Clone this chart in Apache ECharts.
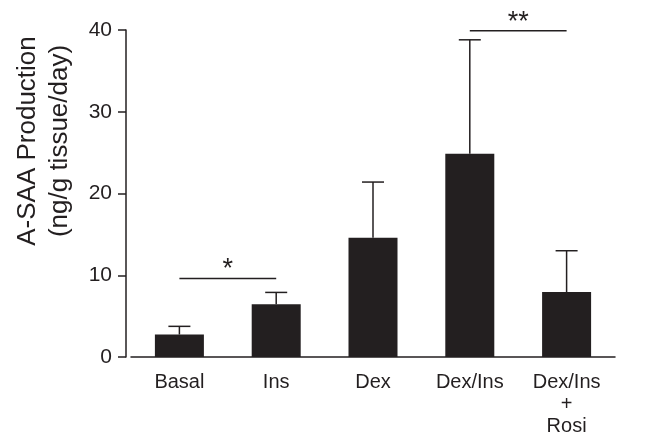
<!DOCTYPE html>
<html>
<head>
<meta charset="utf-8">
<script src="https://cdn.jsdelivr.net/npm/echarts@6/dist/echarts.min.js"></script>
<style>
html, body { margin: 0; padding: 0; background: #fff; }
#chart { width: 661px; height: 437px; }
</style>
</head>
<body>
<div id="chart"></div>
<script>
// groups on the x axis
const categories = ['Basal', 'Ins', 'Dex', 'Dex/Ins', 'Dex/Ins\n+\nRosi'];
// mean A-SAA production per group
const means = [2.75, 6.45, 14.6, 24.85, 7.95];
// top of the error bar (mean + SD)
const upper = [3.75, 7.9, 21.4, 38.8, 13.0];
// significance brackets: which two groups, at what height, which mark
const sigFrom = [0, 3];
const sigTo = [1, 4];
const sigLevel = [9.6, 39.9];
const sigMark = ['*', '**'];

const INK = '#231f20';
const FONT = '"Liberation Sans", Arial, Helvetica, sans-serif';

const chart = echarts.init(document.getElementById('chart'), null, { renderer: 'canvas' });

chart.setOption({
    backgroundColor: '#fff',
    animation: false,
    grid: { left: 131, right: 46, top: 30, bottom: 77 },
    xAxis: {
        type: 'category',
        data: categories,
        axisLine: { lineStyle: { color: INK, width: 1.5 } },
        axisTick: { show: false },
        axisLabel: {
            color: INK,
            fontFamily: FONT,
            fontSize: 20,
            lineHeight: 22,
            margin: 14,
            interval: 0
        }
    },
    yAxis: {
        type: 'value',
        min: 0,
        max: 40,
        interval: 10,
        offset: 5,
        splitLine: { show: false },
        axisLine: { show: true, lineStyle: { color: INK, width: 1.5 } },
        axisTick: { show: true, length: 8, lineStyle: { color: INK, width: 1.5 } },
        axisLabel: { color: INK, fontFamily: FONT, fontSize: 21, margin: 14 }
    },
    graphic: [{
        type: 'text',
        x: 44,
        y: 141,
        rotation: Math.PI / 2,
        style: {
            text: 'A-SAA Production\n(ng/g tissue/day)',
            fill: INK,
            fontFamily: FONT,
            fontSize: 26,
            lineHeight: 32,
            align: 'center',
            verticalAlign: 'middle'
        }
    }],
    series: [
        {
            type: 'bar',
            data: means,
            barWidth: 49,
            itemStyle: { color: INK },
            z: 2
        },
        {
            // error bars, upward only
            type: 'custom',
            data: categories.map((c, i) => [i, means[i], upper[i]]),
            renderItem: function (params, api) {
                const base = api.coord([api.value(0), api.value(1)]);
                const top = api.coord([api.value(0), api.value(2)]);
                const half = 11;
                const style = { stroke: INK, lineWidth: 1.5 };
                return {
                    type: 'group',
                    children: [
                        { type: 'line', shape: { x1: top[0], y1: base[1], x2: top[0], y2: top[1] }, style: style },
                        { type: 'line', shape: { x1: top[0] - half, y1: top[1], x2: top[0] + half, y2: top[1] }, style: style }
                    ]
                };
            },
            z: 3
        },
        {
            // significance brackets
            type: 'custom',
            data: sigFrom.map((f, i) => [f, sigTo[i], sigLevel[i]]),
            renderItem: function (params, api) {
                const a = api.coord([api.value(0), api.value(2)]);
                const b = api.coord([api.value(1), api.value(2)]);
                return {
                    type: 'group',
                    children: [
                        { type: 'line', shape: { x1: a[0], y1: a[1], x2: b[0], y2: b[1] }, style: { stroke: INK, lineWidth: 1.5 } },
                        {
                            type: 'text',
                            x: (a[0] + b[0]) / 2,
                            y: a[1] + 5,
                            style: {
                                text: sigMark[params.dataIndex],
                                fill: INK,
                                fontFamily: FONT,
                                fontSize: 27,
                                align: 'center',
                                verticalAlign: 'bottom'
                            }
                        }
                    ]
                };
            },
            z: 3
        }
    ]
});
</script>
</body>
</html>
